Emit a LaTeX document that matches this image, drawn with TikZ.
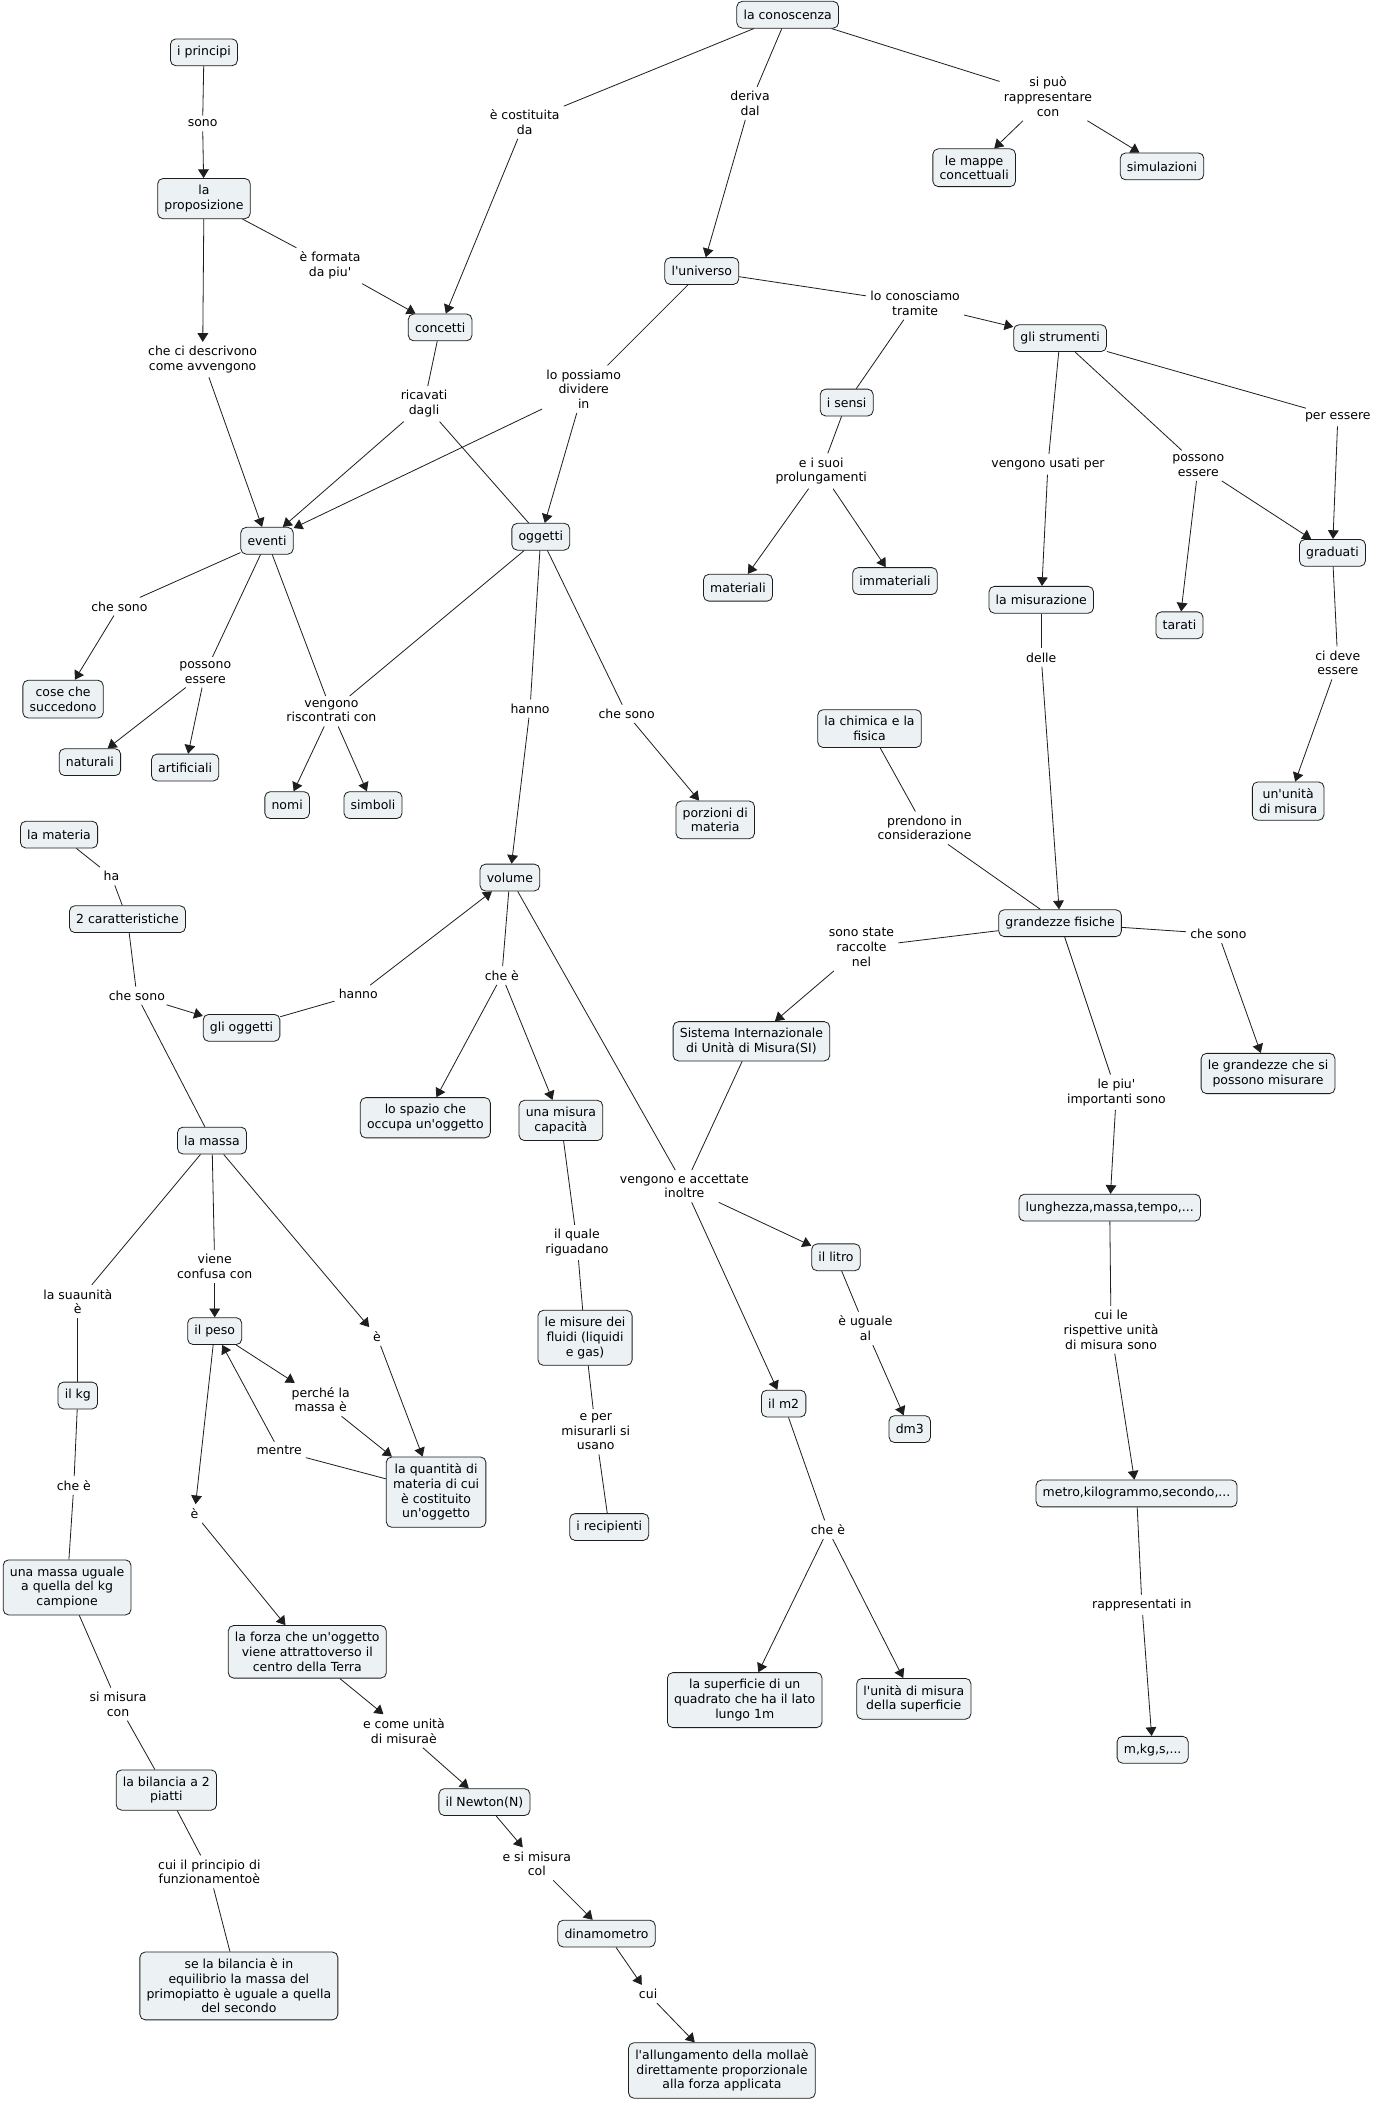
\documentclass[tikz,border=0pt]{standalone}
\usepackage{fontspec}
\newfontfamily\mapfont{DejaVu Sans}
\usetikzlibrary{arrows.meta}
\definecolor{cfill}{RGB}{236,242,244}
\definecolor{cline}{RGB}{30,30,30}
\tikzset{
  concept/.style={draw=cline, fill=cfill, rounded corners=4pt, line width=0.6pt,
    inner xsep=5pt, inner ysep=5pt, minimum height=20pt, align=center,
    font=\mapfont\fontsize{9.3}{11}\selectfont},
  lab/.style={inner sep=3pt, align=center, font=\mapfont\fontsize{9.3}{11}\selectfont},
  link/.style={draw=cline, line width=0.6pt},
  arr/.style={link, -{Triangle[length=6.5pt,width=8pt]}}
}
\begin{document}
\begin{tikzpicture}[x=1pt,y=-1pt]
\fill[white] (0,0) rectangle (1028,1568);
\useasboundingbox (0,0) rectangle (1028,1568);

% concepts
\node[concept] (con) at (587,11) {la conoscenza};
\node[concept] (pri) at (152,39) {i principi};
\node[concept] (pro) at (152,148) {la\\proposizione};
\node[concept] (cct) at (328,244) {concetti};
\node[concept] (uni) at (523,202) {l'universo};
\node[concept] (map) at (726,125) {le mappe\\concettuali};
\node[concept] (sim) at (866,124) {simulazioni};
\node[concept] (str) at (790,252) {gli strumenti};
\node[concept] (sen) at (631,300) {i sensi};
\node[concept] (mat) at (550,438) {materiali};
\node[concept] (imm) at (667,433) {immateriali};
\node[concept] (ogg) at (403,400) {oggetti};
\node[concept] (eve) at (199,403) {eventi};
\node[concept] (cos) at (47,521) {cose che\\succedono};
\node[concept] (nat) at (67,568) {naturali};
\node[concept] (art) at (138,572) {artificiali};
\node[concept] (nom) at (214,600) {nomi};
\node[concept] (sym) at (278,600) {simboli};
\node[concept] (por) at (533,611) {porzioni di\\materia};
\node[concept] (chi) at (648,543) {la chimica e la\\fisica};
\node[concept] (mis) at (776,447) {la misurazione};
\node[concept] (tar) at (879,466) {tarati};
\node[concept] (gra) at (993,412) {graduati};
\node[concept] (unu) at (960,597) {un'unità\\di misura};
\node[concept] (mtr) at (44,622) {la materia};
\node[concept] (car) at (95,685) {2 caratteristiche};
\node[concept] (gog) at (180,766) {gli oggetti};
\node[concept] (vol) at (380,654) {volume};
\node[concept] (mas) at (158,850) {la massa};
\node[concept] (spa) at (317,833) {lo spazio che\\occupa un'oggetto};
\node[concept] (cap) at (418,835) {una misura\\capacità};
\node[concept] (si) at (560,776) {Sistema Internazionale\\di Unità di Misura(SI)};
\node[concept] (gf) at (790,688) {grandezze fisiche};
\node[concept] (lgm) at (945,800) {le grandezze che si\\possono misurare};
\node[concept] (lun) at (827,900) {lunghezza,massa,tempo,...};
\node[concept] (lit) at (623,937) {il litro};
\node[concept] (flu) at (436,997) {le misure dei\\fluidi (liquidi\\e gas)};
\node[concept] (m2) at (584,1046) {il m2};
\node[concept] (dm) at (678,1065) {dm3};
\node[concept] (kg) at (58,1040) {il kg};
\node[concept] (pes) at (160,992) {il peso};
\node[concept] (qua) at (325,1112) {la quantità di\\materia di cui\\è costituito\\un'oggetto};
\node[concept] (rec) at (454,1138) {i recipienti};
\node[concept] (mug) at (50,1183) {una massa uguale\\a quella del kg\\campione};
\node[concept] (frz) at (229,1231) {la forza che un'oggetto\\viene attrattoverso il\\centro della Terra};
\node[concept] (sup) at (555,1267) {la superficie di un\\quadrato che ha il lato\\lungo 1m};
\node[concept] (usp) at (681,1266) {l'unità di misura\\della superficie};
\node[concept] (met) at (847,1113) {metro,kilogrammo,secondo,...};
\node[concept] (mks) at (859,1304) {m,kg,s,...};
\node[concept] (bil) at (124,1334) {la bilancia a 2\\piatti};
\node[concept] (new) at (361,1343) {il Newton(N)};
\node[concept] (din) at (452,1441) {dinamometro};
\node[concept] (seb) at (178,1480) {se la bilancia è in\\equilibrio la massa del\\primopiatto è uguale a quella\\del secondo};
\node[concept] (all) at (538,1543) {l'allungamento della mollaè\\direttamente proporzionale\\alla forza applicata};

% linking phrases
\node[lab] (lCost) at (391,91) {è costituita\\da};
\node[lab] (lDer) at (559,77) {deriva\\dal};
\node[lab] (lRap) at (781,72) {si può\\rappresentare\\con};
\node[lab] (lSono) at (151,92) {sono};
\node[lab] (lForm) at (246,198) {è formata\\da piu'};
\node[lab] (lDesc) at (151,268) {che ci descrivono\\come avvengono};
\node[lab] (lRic) at (316,301) {ricavati\\dagli};
\node[lab] (lDiv) at (435,290) {lo possiamo\\dividere\\in};
\node[lab] (lTram) at (682,226) {lo conosciamo\\tramite};
\node[lab] (lProl) at (612,351) {e i suoi\\prolungamenti};
\node[lab] (lUsati) at (781,346) {vengono usati per};
\node[lab] (lPoss2) at (893,347) {possono\\essere};
\node[lab] (lPer) at (997,311) {per essere};
\node[lab] (lDelle) at (776,490) {delle};
\node[lab] (lDeve) at (997,494) {ci deve\\essere};
\node[lab] (lCS1) at (89,452) {che sono};
\node[lab] (lPoss1) at (153,501) {possono\\essere};
\node[lab] (lRisc) at (247,530) {vengono\\riscontrati con};
\node[lab] (lHanno1) at (395,528) {hanno};
\node[lab] (lCS2) at (467,532) {che sono};
\node[lab] (lPrend) at (689,617) {prendono in\\considerazione};
\node[lab] (lRacc) at (642,706) {sono state\\raccolte\\nel};
\node[lab] (lCS3) at (908,696) {che sono};
\node[lab] (lImp) at (832,814) {le piu'\\importanti sono};
\node[lab] (lRisp) at (828,991) {cui le\\rispettive unità\\di misura sono};
\node[lab] (lRappIn) at (851,1196) {rappresentati in};
\node[lab] (lHa) at (83,653) {ha};
\node[lab] (lCS4) at (102,742) {che sono};
\node[lab] (lHanno2) at (267,741) {hanno};
\node[lab] (lCE1) at (374,727) {che è};
\node[lab] (lQuale) at (430,926) {il quale\\riguadano};
\node[lab] (lAcc) at (510,884) {vengono e accettate\\inoltre};
\node[lab] (lUg) at (645,990) {è uguale\\al};
\node[lab] (lUsano) at (444,1067) {e per\\misurarli si\\usano};
\node[lab] (lCE2) at (617,1140) {che è};
\node[lab] (lSua) at (58,970) {la suaunità\\è};
\node[lab] (lConf) at (160,944) {viene\\confusa con};
\node[lab] (lE1) at (281,996) {è};
\node[lab] (lPerche) at (239,1043) {perché la\\massa è};
\node[lab] (lMentre) at (208,1081) {mentre};
\node[lab] (lE2) at (145,1128) {è};
\node[lab] (lCE3) at (55,1107) {che è};
\node[lab] (lSiMis) at (88,1270) {si misura\\con};
\node[lab] (lPrinc) at (156,1395) {cui il principio di\\funzionamentoè};
\node[lab] (lCome) at (301,1290) {e come unità\\di misuraè};
\node[lab] (lCol) at (400,1389) {e si misura\\col};
\node[lab] (lCui) at (483,1486) {cui};

% connectors
\draw[link] (con) -- (lCost); \draw[arr] (lCost) -- (cct);
\draw[link] (con) -- (lDer); \draw[arr] (lDer) -- (uni);
\draw[link] (con) -- (lRap); \draw[arr] (lRap) -- (map); \draw[arr] (lRap) -- (sim);
\draw[link] (pri) -- (lSono); \draw[arr] (lSono) -- (pro);
\draw[link] (pro) -- (lForm); \draw[arr] (lForm) -- (cct);
\draw[arr] (pro) -- (lDesc); \draw[arr] (lDesc) -- (eve);
\draw[link] (cct) -- (lRic); \draw[arr] (lRic) -- (eve); \draw[link] (lRic) -- (ogg);
\draw[link] (uni) -- (lDiv); \draw[arr] (lDiv) -- (ogg); \draw[arr] (lDiv) -- (eve);
\draw[link] (uni) -- (lTram); \draw[arr] (lTram) -- (str); \draw[link] (lTram) -- (sen);
\draw[link] (sen) -- (lProl); \draw[arr] (lProl) -- (mat); \draw[arr] (lProl) -- (imm);
\draw[link] (str) -- (lUsati); \draw[arr] (lUsati) -- (mis);
\draw[link] (str) -- (lPoss2); \draw[arr] (lPoss2) -- (tar); \draw[arr] (lPoss2) -- (gra);
\draw[link] (str) -- (lPer); \draw[arr] (lPer) -- (gra);
\draw[link] (mis) -- (lDelle); \draw[arr] (lDelle) -- (gf);
\draw[link] (gra) -- (lDeve); \draw[arr] (lDeve) -- (unu);
\draw[link] (eve) -- (lCS1); \draw[arr] (lCS1) -- (cos);
\draw[link] (eve) -- (lPoss1); \draw[arr] (lPoss1) -- (nat); \draw[arr] (lPoss1) -- (art);
\draw[link] (eve) -- (lRisc); \draw[arr] (lRisc) -- (nom); \draw[arr] (lRisc) -- (sym);
\draw[link] (ogg) -- (lRisc);
\draw[link] (ogg) -- (lHanno1); \draw[arr] (lHanno1) -- (vol);
\draw[link] (ogg) -- (lCS2); \draw[arr] (lCS2) -- (por);
\draw[link] (chi) -- (lPrend); \draw[link] (lPrend) -- (gf);
\draw[link] (gf) -- (lRacc); \draw[arr] (lRacc) -- (si);
\draw[link] (gf) -- (lCS3); \draw[arr] (lCS3) -- (lgm);
\draw[link] (gf) -- (lImp); \draw[arr] (lImp) -- (lun);
\draw[link] (lun) -- (lRisp); \draw[arr] (lRisp) -- (met);
\draw[link] (met) -- (lRappIn); \draw[arr] (lRappIn) -- (mks);
\draw[link] (si) -- (lAcc); \draw[arr] (lAcc) -- (lit); \draw[arr] (lAcc) -- (m2);
\draw[link] (vol) -- (lAcc);
\draw[link] (lit) -- (lUg); \draw[arr] (lUg) -- (dm);
\draw[link] (m2) -- (lCE2); \draw[arr] (lCE2) -- (sup); \draw[arr] (lCE2) -- (usp);
\draw[link] (mtr) -- (lHa); \draw[link] (lHa) -- (car);
\draw[link] (car) -- (lCS4); \draw[arr] (lCS4) -- (gog); \draw[link] (lCS4) -- (mas);
\draw[link] (gog) -- (lHanno2); \draw[arr] (lHanno2) -- (vol);
\draw[link] (vol) -- (lCE1); \draw[arr] (lCE1) -- (spa); \draw[arr] (lCE1) -- (cap);
\draw[link] (cap) -- (lQuale); \draw[link] (lQuale) -- (flu);
\draw[link] (flu) -- (lUsano); \draw[link] (lUsano) -- (rec);
\draw[link] (mas) -- (lSua); \draw[link] (lSua) -- (kg);
\draw[link] (kg) -- (lCE3); \draw[link] (lCE3) -- (mug);
\draw[link] (mug) -- (lSiMis); \draw[link] (lSiMis) -- (bil);
\draw[link] (bil) -- (lPrinc); \draw[link] (lPrinc) -- (seb);
\draw[link] (mas) -- (lConf); \draw[arr] (lConf) -- (pes);
\draw[arr] (mas) -- (lE1); \draw[arr] (lE1) -- (qua);
\draw[arr] (pes) -- (lPerche); \draw[arr] (lPerche) -- (qua);
\draw[link] (qua) -- (lMentre); \draw[arr] (lMentre) -- (pes);
\draw[arr] (pes) -- (lE2); \draw[arr] (lE2) -- (frz);
\draw[arr] (frz) -- (lCome); \draw[arr] (lCome) -- (new);
\draw[arr] (new) -- (lCol); \draw[arr] (lCol) -- (din);
\draw[arr] (din) -- (lCui); \draw[arr] (lCui) -- (all);
\end{tikzpicture}
\end{document}
